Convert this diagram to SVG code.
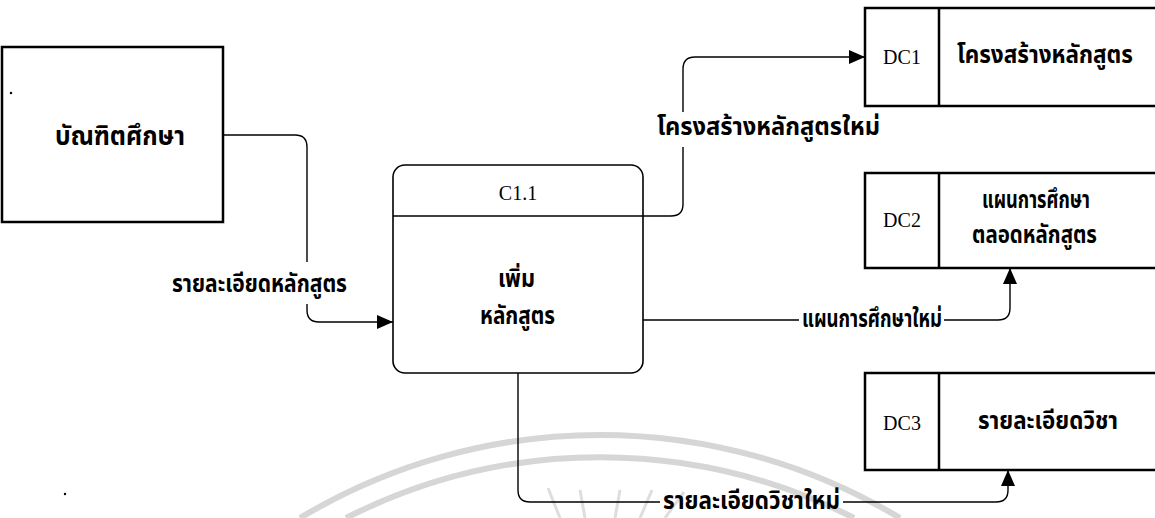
<svg xmlns="http://www.w3.org/2000/svg" width="1155" height="518" viewBox="0 0 1155 518">
  <defs>
    <style>
      .box { fill: none; stroke: #000; stroke-width: 2.5; }
      .thin { fill: none; stroke: #000; stroke-width: 1.6; }
      .conn { fill: none; stroke: #000; stroke-width: 1.4; }
      .th { font-family: "Noto Sans Thai", "Noto Sans", "Liberation Sans", sans-serif; font-weight: bold; font-size: 24px; fill: #000; }
      .big { font-size: 26px; }
      .lat { font-family: "Liberation Serif", serif; font-size: 20px; fill: #000; }
      .wm { fill: none; stroke: #d6d6d6; stroke-width: 6; }
      .ray { fill: none; stroke: #dedede; stroke-width: 3; }
    </style>
    <marker id="arrow" markerUnits="userSpaceOnUse" markerWidth="16" markerHeight="14" viewBox="0 0 16 14" refX="16" refY="7" orient="auto">
      <path d="M0,0 L16,7 L0,14 Z" fill="#000"/>
    </marker>
  </defs>

  <rect width="1155" height="518" fill="#fff"/>

  <!-- faint watermark -->
  <g id="watermark">
    <path class="wm" d="M300,518 A583,583 0 0 1 900,518"/>
    <path class="wm" d="M346,518 A561,561 0 0 1 854,518"/>
    <path class="ray" d="M560,518 L548,488 M585,518 L580,490 M615,518 L620,490 M640,518 L652,490 M665,518 L684,492"/>
  </g>

  <!-- external entity -->
  <g id="entity-graduate">
    <rect class="box" x="2" y="47" width="221" height="175"/>
    <text class="th big" x="55" y="137" textLength="130" lengthAdjust="spacingAndGlyphs" dominant-baseline="central">บัณฑิตศึกษา</text>
  </g>

  <!-- process -->
  <g id="process-c11">
    <rect class="thin" x="393" y="165" width="250" height="208" rx="12" ry="12"/>
    <line class="thin" x1="393" y1="216" x2="643" y2="216"/>
    <text class="lat" x="518" y="193" text-anchor="middle" dominant-baseline="central">C1.1</text>
    <text class="th" x="498" y="280" textLength="37" lengthAdjust="spacingAndGlyphs" dominant-baseline="central">เพิ่ม</text>
    <text class="th" x="480" y="317" textLength="75" lengthAdjust="spacingAndGlyphs" dominant-baseline="central">หลักสูตร</text>
  </g>

  <!-- data stores -->
  <g id="store-dc1">
    <path class="box" d="M1155,8 H865 V106 H1155"/>
    <line class="box" x1="939" y1="8" x2="939" y2="106"/>
    <text class="lat" x="902" y="57" font-size="21" text-anchor="middle" dominant-baseline="central">DC1</text>
    <text class="th" x="957" y="56" textLength="176" lengthAdjust="spacingAndGlyphs" dominant-baseline="central">โครงสร้างหลักสูตร</text>
  </g>
  <g id="store-dc2">
    <path class="box" d="M1155,173 H865 V268 H1155"/>
    <line class="box" x1="939" y1="173" x2="939" y2="268"/>
    <text class="lat" x="902" y="220" font-size="21" text-anchor="middle" dominant-baseline="central">DC2</text>
    <text class="th" x="982" y="201" textLength="108" lengthAdjust="spacingAndGlyphs" dominant-baseline="central">แผนการศึกษา</text>
    <text class="th" x="972" y="236" textLength="125" lengthAdjust="spacingAndGlyphs" dominant-baseline="central">ตลอดหลักสูตร</text>
  </g>
  <g id="store-dc3">
    <path class="box" d="M1155,373 H865 V470 H1155"/>
    <line class="box" x1="939" y1="373" x2="939" y2="470"/>
    <text class="lat" x="902" y="423" font-size="21" text-anchor="middle" dominant-baseline="central">DC3</text>
    <text class="th" x="978" y="422" textLength="140" lengthAdjust="spacingAndGlyphs" dominant-baseline="central">รายละเอียดวิชา</text>
  </g>

  <!-- connectors -->
  <g id="connectors">
    <path class="conn" d="M223,135 H295 Q307,135 307,147 V262 M307,304 V310 Q307,322 319,322 H393" marker-end="url(#arrow)"/>
    <path class="conn" d="M643,216 H671 Q683,216 683,204 V147 M683,112 V69 Q683,57 695,57 H865" marker-end="url(#arrow)"/>
    <path class="conn" d="M643,320 H799 M944,320 H998 Q1010,320 1010,308 V268" marker-end="url(#arrow)"/>
    <path class="conn" d="M518,373 V490 Q518,502 530,502 H660 M843,502 H996 Q1008,502 1008,490 V470" marker-end="url(#arrow)"/>
    <text class="th" x="172" y="285" textLength="175" lengthAdjust="spacingAndGlyphs" dominant-baseline="central">รายละเอียดหลักสูตร</text>
    <text class="th" x="657" y="128" textLength="223" lengthAdjust="spacingAndGlyphs" dominant-baseline="central">โครงสร้างหลักสูตรใหม่</text>
    <text class="th" x="802" y="320" textLength="140" lengthAdjust="spacingAndGlyphs" dominant-baseline="central">แผนการศึกษาใหม่</text>
    <text class="th" x="663" y="502" textLength="177" lengthAdjust="spacingAndGlyphs" dominant-baseline="central">รายละเอียดวิชาใหม่</text>
  </g>

  <!-- scan specks -->
  <circle cx="11" cy="93" r="1.2" fill="#000"/>
  <circle cx="65" cy="494" r="1.2" fill="#000"/>
</svg>
